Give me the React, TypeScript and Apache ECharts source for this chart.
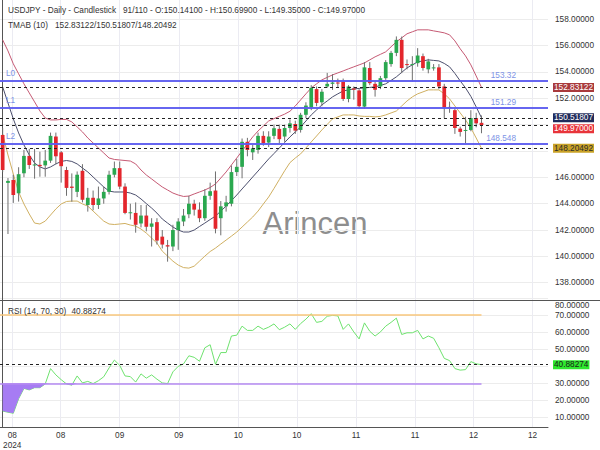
import React, { useEffect, useRef } from 'react';
import * as echarts from 'echarts';

// ---- data ----
const opens = [149.22,145.58,145.8,144.79,146.31,147.63,146.9,146.95,146.91,147.27,
149.1,147.9,146.56,145.3,144.9,146.5,143.9,144.45,143.9,144.4,
144.9,146.2,146.7,145.3,143.3,143.3,142.5,143.1,142.25,142.6,
141.5,140.85,140.75,142.0,142.65,143.2,144.0,143.55,142.9,144.6,
145.0,142.9,143.8,144.0,146.4,146.8,148.7,147.9,148.08,149.15,
148.64,149.15,149.68,149.1,149.75,150.05,149.6,150.75,151.3,152.7,
151.7,152.9,153.1,153.2,153.25,151.95,152.75,152.6,151.37,154.3,
153.1,152.9,153.53,154.6,155.45,156.44,154.6,154.55,154.67,155.2,
154.2,154.3,154.35,152.9,151.35,151.1,149.7,149.55,149.6,150.5,
150.141];
const highs = [149.75,145.95,146.18,146.77,148.08,148.16,148.16,147.95,148.08,149.4,
149.4,148.0,146.8,146.3,146.45,147.0,145.2,145.0,145.3,145.3,
146.5,147.2,147.2,145.55,144.0,144.1,143.9,143.9,142.9,142.9,
142.0,141.25,142.4,142.9,143.6,144.6,144.3,144.1,145.1,145.6,
146.45,144.2,144.6,146.9,147.4,148.95,149.0,148.46,149.4,149.5,
149.5,150.0,150.0,150.0,150.4,150.3,150.9,151.7,153.0,152.9,
152.7,153.93,153.83,153.5,153.5,153.0,152.9,152.7,154.75,154.75,
153.27,153.7,154.9,155.6,156.7,156.69,154.95,155.2,155.81,155.4,
155.0,154.6,154.6,153.1,151.75,151.3,149.85,150.6,151.1,150.9,
150.699];
const lows = [146.4,141.7,144.06,144.16,146.01,146.64,145.9,146.05,146.05,147.1,
147.0,145.6,144.6,144.15,144.5,144.1,143.4,143.5,143.6,144.0,
144.7,146.0,145.1,143.2,142.8,141.8,142.2,141.9,140.75,140.9,
140.6,139.6,140.4,140.5,142.3,142.9,143.1,142.6,142.7,144.3,
141.75,141.6,143.4,143.8,146.1,145.93,147.6,147.32,147.8,148.4,
148.3,148.9,148.6,148.7,149.4,149.3,149.4,150.5,151.1,151.4,
151.4,152.8,152.64,152.8,151.8,151.7,151.9,151.2,151.2,153.0,
152.13,152.7,153.4,154.4,155.2,153.91,154.2,153.27,154.4,154.1,
153.9,154.1,152.7,150.49,150.9,149.3,149.1,148.6,149.5,149.8,
149.35];
const closes = [146.56,145.73,144.66,146.24,147.63,146.94,146.98,146.85,147.27,149.15,
147.6,146.85,145.2,145.2,146.2,144.3,144.45,143.9,144.4,144.9,
146.2,146.7,145.3,143.3,143.35,142.4,143.1,142.25,142.5,141.2,
140.9,140.75,142.0,142.65,143.1,144.0,143.55,142.9,144.6,144.95,
142.1,143.8,144.1,146.4,146.8,148.7,148.08,148.2,149.15,148.6,
149.1,149.73,148.9,149.75,150.1,149.55,150.75,151.45,152.8,151.65,
152.5,153.1,153.2,153.15,151.95,152.9,152.65,151.4,154.35,153.15,
152.65,153.53,154.75,155.45,156.44,154.3,154.55,154.6,155.25,154.3,
154.8,154.35,152.9,151.3,151.25,149.75,149.45,149.6,150.5,150.1,
149.97];

const tmaUpper = [156.44,155.6,154.62,153.86,153.1,152.41,151.73,151.04,150.51,150.36,
150.36,150.4,150.4,150.21,149.83,149.45,148.99,148.61,148.23,147.85,
147.47,147.36,147.32,147.28,147.24,147.02,146.56,146.18,145.88,145.57,
145.27,145.04,144.81,144.66,144.55,144.58,144.74,144.89,145.04,145.23,
145.5,145.95,146.41,146.94,147.47,148.0,148.54,149.07,149.52,149.9,
150.28,150.46,150.63,150.8,151.02,151.42,151.88,152.34,152.79,153.1,
153.4,153.59,153.78,153.93,154.08,154.24,154.39,154.54,154.69,154.92,
155.15,155.34,155.53,155.91,156.29,156.59,156.9,157.05,157.2,157.2,
157.2,157.12,157.05,156.97,156.82,156.36,155.76,155.22,154.54,153.7,
152.83122];
const tmaMid = [152.87,151.65,150.44,149.37,148.46,147.7,147.09,146.79,146.64,146.79,
147.02,147.21,147.28,147.21,147.02,146.71,146.41,146.03,145.65,145.27,
144.96,144.89,144.89,144.89,144.81,144.66,144.36,144.01,143.67,143.29,
142.84,142.53,142.23,142.0,141.85,141.85,142.0,142.27,142.53,142.8,
143.06,143.44,143.82,144.24,144.66,145.12,145.57,146.03,146.48,146.94,
147.4,147.81,148.23,148.65,149.07,149.45,149.83,150.28,150.74,151.12,
151.5,151.8,152.11,152.34,152.56,152.64,152.72,152.75,152.79,152.83,
152.87,152.98,153.1,153.36,153.63,153.97,154.31,154.54,154.77,154.84,
154.92,154.88,154.84,154.65,154.39,153.89,153.32,152.79,152.15,151.35,
150.51807];
const tmaLower = [149.3,147.7,146.26,144.89,143.98,143.22,142.53,142.46,142.68,143.14,
143.6,143.98,144.17,144.2,144.2,143.98,143.82,143.44,143.06,142.68,
142.46,142.42,142.46,142.5,142.38,142.3,142.08,141.77,141.39,141.01,
140.4,140.02,139.64,139.34,139.15,139.11,139.26,139.64,140.02,140.37,
140.63,140.94,141.24,141.54,141.85,142.23,142.61,142.99,143.44,143.98,
144.51,145.16,145.83,146.5,147.12,147.47,147.78,148.23,148.69,149.14,
149.6,150.02,150.44,150.59,150.74,150.74,150.74,150.66,150.63,150.63,
150.59,150.63,150.74,150.89,151.04,151.42,151.8,152.11,152.34,152.49,
152.64,152.64,152.64,152.34,151.96,151.42,150.89,150.36,149.75,148.99,
148.20492];

const rsi = [13.7,13.0,12.4,20.9,27.0,26.1,27.4,27.4,29.6,38.6,
34.9,32.1,29.6,28.9,34.3,30.2,31.1,29.8,31.5,33.8,
39.0,43.6,40.5,34.3,33.9,30.7,35.5,33.0,34.9,32.4,
30.2,29.8,36.7,39.9,41.4,46.1,45.2,42.9,50.8,52.6,
41.1,48.0,48.0,57.7,58.2,63.5,61.0,61.0,63.5,61.6,
62.9,64.8,61.4,62.9,64.8,61.6,65.0,67.6,70.8,65.7,
66.3,69.3,69.8,69.5,61.6,64.8,60.1,56.0,65.4,60.5,
57.7,60.1,63.5,65.7,68.2,58.6,59.6,59.6,61.0,56.0,
57.7,56.4,50.8,44.6,43.3,38.6,37.7,38.0,42.7,41.4,
40.88274];

// grid/tick values and the labels that stay visible (the others sit under the badges)
const priceTicks = [138, 140, 142, 144, 146, 148, 150, 152, 154, 156, 158];
const priceLabels = [138, 140, 142, 144, 146, 152, 154, 156, 158];
const rsiTicks = [10, 20, 30, 40, 50, 60, 70, 80];
const rsiLabels = [10, 20, 30, 50, 60, 70];
const rsiTopLabel = '80.00000';
const xTickPos = [1.8, 10.9, 22, 33.1, 44.3, 55.3, 66.4, 77.5, 88.5, 99.6];
const xTickText = ['08\n2024', '08', '09', '09', '10', '10', '11', '11', '12', '12'];

const levelNames = ['L0', 'L1', 'L2'];
const levelValues = [153.32, 151.29, 148.548];
const levelText = ['153.32', '151.29', '148.548'];

const lastValues = [152.83122, 150.51807, 149.97, 148.20492];
const lastBg = ['#a93a3c', '#1f2b5b', '#e8343a', '#c9a227'];
const lastFg = ['#ffffff', '#ffffff', '#ffffff', '#2a2a2a'];
const lastShift = [0, 0, 3.6, 0];

const rsiUpper = 70;
const rsiLower = 30;
const rsiLast = 40.88274;

const headerLeft = 'USDJPY - Daily - Candlestick';
const headerRight = '91/110 - O:150.14100 - H:150.69900 - L:149.35000 - C:149.97000';
const tmaLabel = 'TMAB (10)';
const tmaValues = '152.83122/150.51807/148.20492';
const rsiLabel = 'RSI (14, 70, 30)';
const rsiValue = '40.88274';

const FONT = 'Liberation Sans, Arial, Helvetica, sans-serif';
const FS = 8.25;
const UP = '#2aa84f';
const DOWN = '#e3262c';

const txt = (x: number, y: number, text: string, size = FS, fill = '#333') => ({
  type: 'text', x, y, silent: true, z: 60,
  style: { text, fontSize: size, fontFamily: FONT, fill, verticalAlign: 'middle', align: 'left' },
});

function baseGraphics(): any[] {
  return [
    {
      type: 'text', x: 315, y: 223, silent: true, z: 0,
      style: { text: 'Arincen', fontSize: 31, fontFamily: FONT, fill: '#8e8e8e', align: 'center', verticalAlign: 'middle' },
    },
    txt(8, 10, headerLeft),
    txt(123, 10, headerRight),
    txt(8, 25, tmaLabel),
    txt(55, 25, tmaValues),
    txt(8, 311, rsiLabel),
    txt(71.5, 311, rsiValue),
    txt(555, 305, rsiTopLabel),
    {
      type: 'line', silent: true, z: 50,
      shape: { x1: 0, y1: 300.5, x2: 600, y2: 300.5 },
      style: { stroke: '#555', lineWidth: 1 },
    },
  ];
}

function buildOption(): any {
  const candleData = opens.map((o, i) => [i, o, closes[i], lows[i], highs[i]]);
  const toXY = (arr: number[]) => arr.map((v, i) => [i, v]);
  const gridLine = { show: true, lineStyle: { color: '#ebebf2', width: 1 } };

  return {
    animation: false,
    textStyle: { fontFamily: FONT },
    grid: [
      { left: 0, top: 0, width: 548, height: 300 },
      { left: 0, top: 298, width: 548, height: 134 },
    ],
    xAxis: [
      {
        type: 'value', gridIndex: 0, min: -0.5, max: 102.5,
        axisLine: { show: false },
        axisTick: { show: false, customValues: xTickPos },
        axisLabel: { show: false, customValues: xTickPos },
        splitLine: gridLine,
      },
      {
        type: 'value', gridIndex: 1, min: -0.5, max: 102.5,
        axisLine: { show: true, lineStyle: { color: '#555', width: 1 } },
        axisTick: { show: false, customValues: xTickPos },
        axisLabel: {
          customValues: xTickPos, fontSize: FS, color: '#333', margin: 3, lineHeight: 10,
          formatter: (v: number) => {
            const k = xTickPos.findIndex((p) => Math.abs(p - v) < 0.01);
            return k >= 0 ? xTickText[k] : '';
          },
        },
        splitLine: gridLine,
      },
    ],
    yAxis: [
      {
        type: 'value', gridIndex: 0, position: 'right', min: 136.69, max: 159.465,
        axisLine: { show: true, lineStyle: { color: '#555', width: 1 } },
        axisTick: { show: false, customValues: priceTicks },
        axisLabel: { customValues: priceLabels, fontSize: FS, color: '#333', margin: 7,
          formatter: (v: number) => v.toFixed(5) },
        splitLine: { show: true, lineStyle: { color: '#ececec', width: 1 } },
      },
      {
        type: 'value', gridIndex: 1, position: 'right', min: 4.35, max: 80,
        axisLine: { show: true, lineStyle: { color: '#555', width: 1 } },
        axisTick: { show: false, customValues: rsiTicks },
        axisLabel: {
          customValues: rsiLabels, fontSize: FS, color: '#333', margin: 7,
          formatter: (v: number) => v.toFixed(5),
        },
        splitLine: { show: true, lineStyle: { color: '#ececec', width: 1 } },
      },
    ],
    graphic: baseGraphics(),
    series: [
      {
        type: 'custom', name: 'USDJPY', xAxisIndex: 0, yAxisIndex: 0, z: 4, clip: true,
        data: candleData,
        encode: { x: 0, y: [1, 2, 3, 4] },
        renderItem: (params: any, api: any) => {
          const i = api.value(0);
          const o = api.value(1);
          const c = api.value(2);
          const l = api.value(3);
          const h = api.value(4);
          const pO = api.coord([i, o]);
          const pC = api.coord([i, c]);
          const pL = api.coord([i, l]);
          const pH = api.coord([i, h]);
          const w = api.size([1, 0])[0] * 0.7;
          const top = Math.min(pO[1], pC[1]);
          const bh = Math.max(Math.abs(pO[1] - pC[1]), 1);
          const up = c >= o;
          return {
            type: 'group',
            children: [
              { type: 'line', shape: { x1: pH[0], y1: pH[1], x2: pL[0], y2: pL[1] }, style: { stroke: '#6f6f6f', lineWidth: 1 } },
              { type: 'rect', shape: { x: pO[0] - w / 2, y: top, width: w, height: bh }, style: { fill: up ? UP : DOWN } },
            ],
          };
        },
      },
      {
        type: 'line', name: 'TMA upper', xAxisIndex: 0, yAxisIndex: 0, data: toXY(tmaUpper),
        symbol: 'none', lineStyle: { color: '#c65a74', width: 1 }, z: 3,
      },
      {
        type: 'line', name: 'TMA mid', xAxisIndex: 0, yAxisIndex: 0, data: toXY(tmaMid),
        symbol: 'none', lineStyle: { color: '#4d506e', width: 1 }, z: 3,
        markLine: {
          silent: true, symbol: ['none', 'none'], animation: false,
          data: [
            ...levelValues.map((v, k) => ({
              yAxis: v,
              lineStyle: { color: '#5d5def', width: 1.5, type: 'solid' },
              label: { show: true, position: 'insideStartTop', formatter: levelNames[k], color: '#7d93e6', fontSize: FS, distance: [6, 3] },
            })),
            ...levelValues.map((v, k) => ({
              yAxis: v,
              lineStyle: { color: '#5d5def', width: 1.5, type: 'solid' },
              label: { show: true, position: 'insideEndTop', formatter: levelText[k], color: '#7d93e6', fontSize: FS, distance: [32, 1] },
            })),
            ...lastValues.map((v) => ({
              yAxis: v,
              lineStyle: { color: '#222', width: 1, type: [3, 3] },
              label: { show: false },
            })),
          ],
        },
      },
      {
        type: 'line', name: 'TMA lower', xAxisIndex: 0, yAxisIndex: 0, data: toXY(tmaLower),
        symbol: 'none', lineStyle: { color: '#d0b062', width: 1 }, z: 3,
      },
      {
        type: 'line', name: 'RSI', xAxisIndex: 1, yAxisIndex: 1, data: toXY(rsi),
        symbol: 'none', lineStyle: { color: '#6ee26e', width: 1 }, z: 3,
        markLine: {
          silent: true, symbol: ['none', 'none'], animation: false,
          data: [
            [
              { coord: [-0.5, rsiUpper], lineStyle: { color: '#f8c77c', width: 1.5, type: 'solid' }, label: { show: false } },
              { coord: [rsi.length - 1, rsiUpper] },
            ],
            [
              { coord: [-0.5, rsiLower], lineStyle: { color: '#b48af2', width: 1.5, type: 'solid' }, label: { show: false } },
              { coord: [rsi.length - 1, rsiLower] },
            ],
            {
              yAxis: rsiLast,
              lineStyle: { color: '#222', width: 1, type: [3, 3] },
              label: { show: false },
            },
          ],
        },
      },
      {
        type: 'line', name: 'RSI oversold', xAxisIndex: 1, yAxisIndex: 1,
        data: rsi.map((v, i) => [i, Math.min(v, rsiLower)]),
        symbol: 'none', lineStyle: { width: 0, opacity: 0 }, z: 4,
        areaStyle: { origin: rsiLower, color: '#a67cf3', opacity: 1 },
      },
    ],
  };
}

function badge(y: number, text: string, bg: string, fg: string) {
  return {
    type: 'text', x: 553, y, silent: true, z: 70,
    style: {
      text, fontSize: FS, fontFamily: FONT, fill: fg, backgroundColor: bg,
      padding: [1, 1, 0, 1], verticalAlign: 'middle', align: 'left',
    },
  };
}

export default function App() {
  const ref = useRef<HTMLDivElement>(null);
  useEffect(() => {
    if (!ref.current) return;
    const chart = echarts.init(ref.current, null, { renderer: 'svg' });
    chart.setOption(buildOption());
    const badges: any[] = lastValues.map((v, k) => {
      const y = chart.convertToPixel({ yAxisIndex: 0 } as any, v) as number;
      return badge(y + lastShift[k], v.toFixed(5), lastBg[k], lastFg[k]);
    });
    const ry = chart.convertToPixel({ yAxisIndex: 1 } as any, rsiLast) as number;
    badges.push(badge(ry, rsiLast.toFixed(5), '#2ee82e', '#1a1a1a'));
    chart.setOption({ graphic: [...baseGraphics(), ...badges] });
    return () => chart.dispose();
  }, []);
  return (
    <div
      ref={ref}
      style={{ position: 'fixed', left: 0, top: 0, width: 600, height: 450, background: '#ffffff' }}
    />
  );
}
